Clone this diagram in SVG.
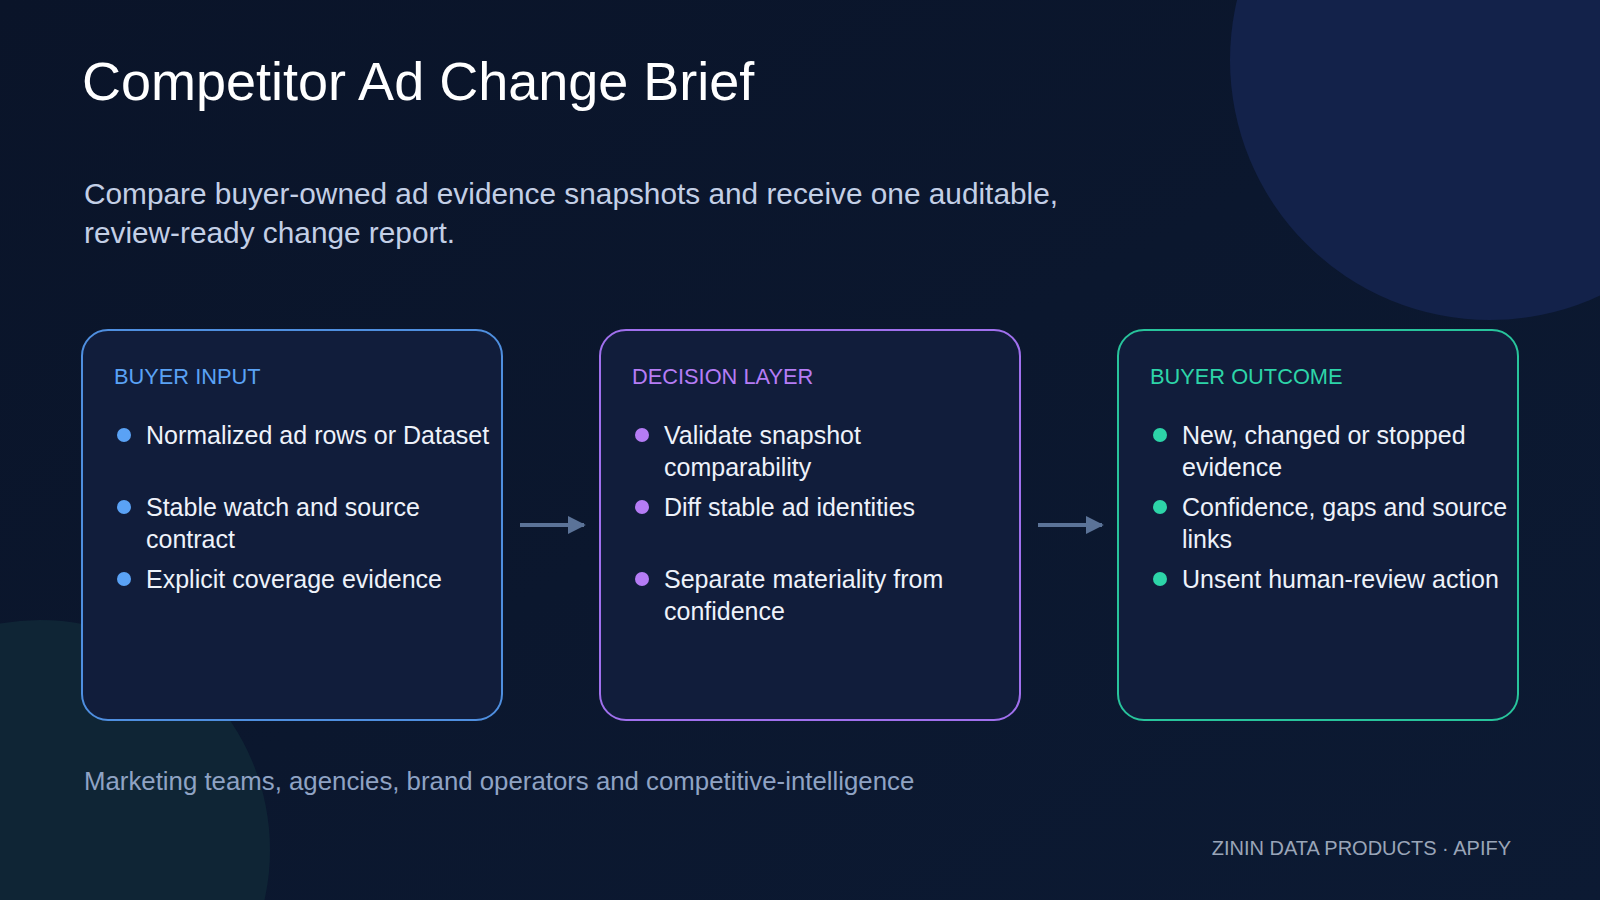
<svg xmlns="http://www.w3.org/2000/svg" width="1600" height="900" viewBox="0 0 1600 900">
<defs>
<linearGradient id="bg" x1="0" y1="0" x2="1" y2="1"><stop offset="0" stop-color="#0a1429"/><stop offset="1" stop-color="#0c1a33"/></linearGradient>
<marker id="ah" viewBox="0 0 10 10" refX="9" refY="5" markerWidth="4.5" markerHeight="4.5" orient="auto"><path d="M0,0 L10,5 L0,10 z" fill="#5b7398"/></marker>
</defs>
<style>
text{font-family:"Liberation Sans",Arial,sans-serif}
.box{fill:#111d3b;stroke-width:2}
.hd{font-size:21.8px}
.it{font-size:25px;fill:#eef2fa}
.conn{stroke:#5b7398;stroke-width:4;fill:none}
</style>
<rect width="1600" height="900" fill="url(#bg)"/>
<circle cx="1490" cy="60" r="260" fill="#13224a"/>
<circle cx="40" cy="850" r="230" fill="#0f2736" opacity="0.9"/>
<text x="82" y="100" font-size="54" fill="#ffffff">Competitor Ad Change Brief</text>
<text font-size="29.8" fill="#c3cfe6"><tspan x="84" y="204">Compare buyer-owned ad evidence snapshots and receive one auditable,</tspan><tspan x="84" y="243">review-ready change report.</tspan></text>
<g id="input">
<rect class="box" x="82" y="330" width="420" height="390" rx="26" stroke="#4f8fe0"/>
<text class="hd" x="114" y="384" fill="#5aa2f5">BUYER INPUT</text>
<g fill="#5aa2f5"><circle cx="124" cy="435" r="7"/><circle cx="124" cy="507" r="7"/><circle cx="124" cy="579" r="7"/></g>
<text class="it"><tspan x="146" y="444">Normalized ad rows or Dataset</tspan><tspan x="146" y="516">Stable watch and source</tspan><tspan x="146" y="548">contract</tspan><tspan x="146" y="588">Explicit coverage evidence</tspan></text>
</g>
<g id="decision">
<rect class="box" x="600" y="330" width="420" height="390" rx="26" stroke="#a070ee"/>
<text class="hd" x="632" y="384" fill="#b57cf5">DECISION LAYER</text>
<g fill="#b57cf5"><circle cx="642" cy="435" r="7"/><circle cx="642" cy="507" r="7"/><circle cx="642" cy="579" r="7"/></g>
<text class="it"><tspan x="664" y="444">Validate snapshot</tspan><tspan x="664" y="476">comparability</tspan><tspan x="664" y="516">Diff stable ad identities</tspan><tspan x="664" y="588">Separate materiality from</tspan><tspan x="664" y="620">confidence</tspan></text>
</g>
<g id="outcome">
<rect class="box" x="1118" y="330" width="400" height="390" rx="26" stroke="#28c49c"/>
<text class="hd" x="1150" y="384" fill="#2dd4a8">BUYER OUTCOME</text>
<g fill="#2dd4a8"><circle cx="1160" cy="435" r="7"/><circle cx="1160" cy="507" r="7"/><circle cx="1160" cy="579" r="7"/></g>
<text class="it"><tspan x="1182" y="444">New, changed or stopped</tspan><tspan x="1182" y="476">evidence</tspan><tspan x="1182" y="516">Confidence, gaps and source</tspan><tspan x="1182" y="548">links</tspan><tspan x="1182" y="588">Unsent human-review action</tspan></text>
</g>
<g id="connectors">
<line class="conn" x1="520" y1="525" x2="584" y2="525" marker-end="url(#ah)"/>
<line class="conn" x1="1038" y1="525" x2="1102" y2="525" marker-end="url(#ah)"/>
</g>
<text x="84" y="790" font-size="25.8" fill="#8fa3c4">Marketing teams, agencies, brand operators and competitive-intelligence</text>
<text x="1511" y="855" font-size="20" fill="#9aa5b8" text-anchor="end">ZININ DATA PRODUCTS · APIFY</text>
</svg>
